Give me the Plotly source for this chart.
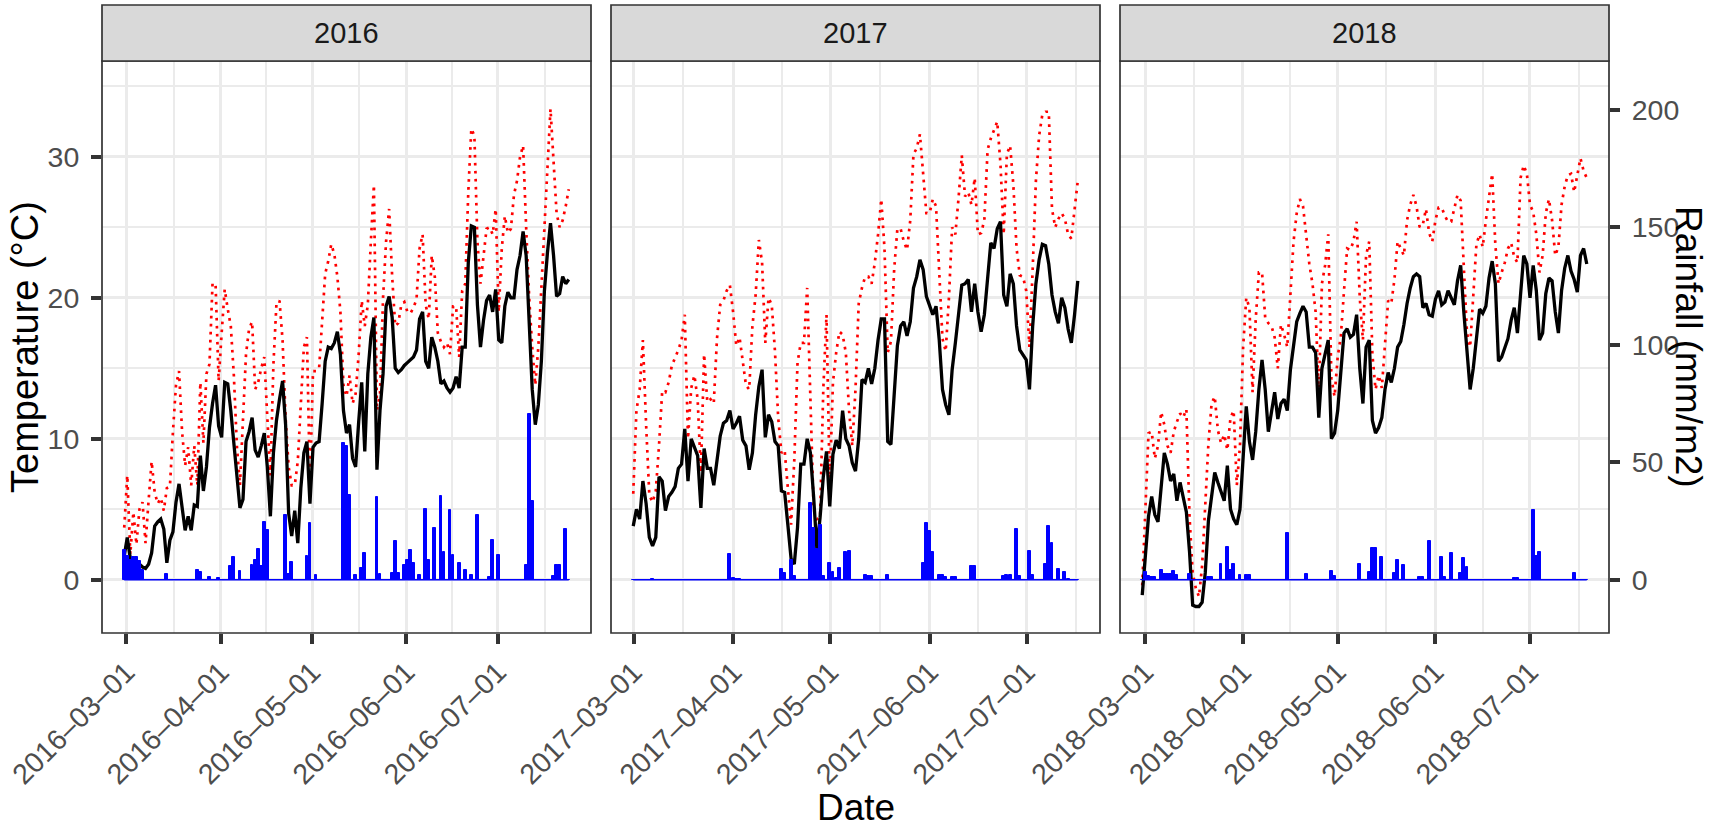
"""Daily temperature and rainfall, March to July, 2016-2018"""
import pandas as pd
import plotly.graph_objects as go

years = ["2016", "2017", "2018"]
start_dates = ["2016-03-01", "2017-03-01", "2018-03-01"]

# daily mean temperature (black line), degC
tmean_2016 = [
    1.7, 3.0, 1.5, 1.4, 1.2, 1.1, 0.9, 0.8, 1.1, 1.9,
    3.8, 4.1, 4.3, 3.6, 1.2, 2.8, 3.4, 5.5, 6.8, 5.0,
    3.5, 4.5, 3.5, 5.3, 5.2, 8.8, 6.3, 8.0, 10.8, 12.5,
    13.8, 10.9, 10.1, 14.0, 13.9, 12.0, 9.5, 7.5, 5.1, 5.7,
    9.8, 10.5, 11.5, 9.2, 8.7, 9.5, 10.4, 8.0, 4.5, 9.0,
    11.3, 12.8, 14.1, 11.0, 4.7, 3.1, 4.9, 2.6, 6.5, 9.0,
    9.8, 5.4, 9.4, 9.7, 9.8, 12.5, 15.5,
    16.5, 16.4, 16.8, 17.6, 16.0, 12.0, 10.4, 11.0, 8.6, 8.0,
    11.2, 14.0, 9.1, 14.6, 17.2, 18.6, 7.8, 12.0, 14.6, 19.4,
    20.1, 18.6, 15.0, 14.7, 14.9, 15.2, 15.4, 15.6, 15.8, 16.3,
    18.5, 19.0, 15.5, 15.0, 17.2, 16.5, 15.5, 13.9, 14.1, 13.6,
    13.3, 13.6, 14.4, 13.6, 16.5, 16.5, 22.5, 25.1, 25.0, 19.5,
    16.5, 18.4, 19.8, 20.2, 19.0, 20.6, 17.0, 16.8, 19.4, 20.4,
    20.0, 20.0, 22.0, 23.0, 24.7, 23.0, 18.0, 13.5, 11.0, 12.4,
    15.5, 20.5, 23.2,
    25.3, 23.0, 20.1, 20.3, 21.5, 21.0, 21.3,
]
tmean_2017 = [
    3.8, 5.0, 4.3, 7.0, 5.4, 3.0, 2.4, 3.0, 7.3, 7.0,
    4.9, 5.9, 6.2, 6.6, 7.9, 8.2, 10.7, 7.0, 10.0, 9.4,
    8.8, 5.1, 9.3, 7.9, 7.9, 6.7, 8.4, 10.2, 11.1, 11.3,
    12.0, 10.7, 11.1, 11.6, 9.9, 9.5, 7.8, 9.0, 11.7, 13.7,
    14.9, 10.1, 11.7, 11.2, 9.8, 9.5, 6.3, 6.2, 3.9, 1.5,
    1.1, 3.7, 8.2, 8.2, 10.0, 9.0, 5.9, 2.2, 4.4, 7.3,
    9.1, 5.2, 8.9, 9.9, 9.3, 12.0, 10.0, 9.5, 8.3, 7.7,
    10.0, 14.2, 14.0, 15.0, 13.9, 15.0, 17.0, 18.5, 18.5, 9.8,
    9.6, 13.2, 16.6, 18.0, 18.3, 17.3, 18.3, 20.7, 21.5, 22.7,
    22.0, 20.1, 19.5, 18.8, 19.4, 17.0, 13.5, 12.4, 11.7, 14.9,
    16.8, 19.0, 20.9, 21.0, 21.3, 19.0, 21.0, 19.0, 17.6, 18.8,
    21.5, 23.9, 23.5, 24.9, 25.4, 20.2, 19.4, 21.7, 21.0, 18.0,
    16.3, 15.9, 15.6, 13.5, 18.0, 21.0, 22.7, 23.8, 23.7, 22.4,
    20.2, 19.0, 18.2, 20.0, 19.3, 17.8, 16.8, 18.8, 21.2,
]
tmean_2018 = [
    -1.1, 1.5, 4.5, 5.9, 4.6, 4.1, 6.5, 9.0, 8.2, 7.0,
    7.5, 5.6, 6.9, 5.9, 4.8, 2.0, -1.8, -1.9, -1.9, -1.6,
    0.5, 4.2, 5.8, 7.6, 6.9, 6.3, 5.6, 8.1, 5.0, 4.3,
    3.9, 5.0, 8.6, 12.3, 9.8, 8.5, 10.5, 13.5, 15.6, 13.5,
    10.5, 12.0, 13.3, 11.4, 12.5, 12.8, 12.0, 14.9, 16.6, 18.3,
    18.9, 19.4, 19.0, 16.5, 16.5, 16.1, 11.5, 15.0, 16.0, 17.0,
    10.0, 10.4, 12.0, 14.7, 17.5, 17.8, 17.2, 17.4, 18.8,
    15.0, 12.5, 16.5, 17.0, 11.3, 10.4, 10.8, 11.5, 13.5, 14.7,
    14.0, 15.0, 16.5, 16.9, 18.1, 19.6, 20.7, 21.5, 21.7, 21.5,
    19.3, 19.6, 18.8, 18.7, 19.9, 20.5, 19.5, 19.7, 20.5, 20.0,
    19.5, 21.2, 22.3, 19.0, 16.5, 13.5, 15.0, 17.4, 19.2, 18.9,
    19.4, 21.4, 22.6, 21.0, 15.5, 15.8, 16.5, 17.1, 18.4, 19.3,
    17.5, 20.5, 23.0, 22.4, 20.0, 22.3, 20.5, 17.0, 17.5, 20.3,
    21.4, 21.2, 19.0, 17.5, 20.5, 22.1, 23.0, 21.9, 21.3, 20.4,
    23.0, 23.5, 22.4,
]

# daily maximum temperature (red dotted line), degC
tmax_2016 = [
    3.7, 7.4, 1.8, 4.8, 2.5, 5.0, 5.5, 2.6, 5.6, 8.4,
    6.2, 5.4, 5.8, 4.9, 6.5, 6.6, 10.5, 13.8, 14.8, 10.5,
    8.1, 9.4, 6.7, 9.5, 6.7, 14.0, 9.7, 14.6, 15.3, 21.0,
    21.0, 14.1, 17.5, 20.6, 19.2, 18.0, 14.5, 9.5, 6.7, 11.0,
    16.0, 17.8, 18.3, 13.5, 14.0, 15.0, 15.8, 11.5, 7.4, 15.3,
    19.6, 19.8, 17.0, 11.5, 8.0, 6.7, 6.7, 8.4, 12.4, 16.5,
    17.2, 6.7, 14.8, 14.8, 15.0, 18.5, 21.7,
    22.6, 23.8, 23.1, 21.5, 19.0, 13.8, 13.0, 14.5, 12.5, 13.2,
    16.0, 19.8, 18.0, 19.5, 24.0, 28.0, 12.0, 13.2, 20.0, 24.0,
    26.3, 21.5, 18.0, 18.2, 19.5, 19.7, 19.0, 18.9, 19.3, 19.9,
    23.5, 24.5, 19.5, 18.5, 23.0, 21.5, 17.5, 16.9, 16.5, 16.8,
    16.0, 19.4, 19.4, 15.8, 20.5, 21.0, 27.5, 32.0, 31.5, 24.0,
    21.0, 23.0, 24.9, 25.0, 24.5, 26.3, 19.0, 23.5, 25.8, 24.6,
    24.9, 27.3, 28.3, 30.0, 30.8, 25.0, 20.0, 16.5, 13.8, 16.5,
    21.0, 25.6, 29.2,
    33.4, 30.0, 26.0, 25.0, 25.5, 26.5, 27.7,
]
tmax_2017 = [
    6.1, 12.0, 13.5, 17.0, 11.0, 6.0, 5.5, 6.3, 9.5, 13.4,
    13.3, 14.0, 15.2, 15.7, 16.3, 17.0, 18.8, 10.0, 13.6, 14.5,
    12.8, 7.6, 16.0, 12.6, 12.8, 12.5, 17.1, 19.5, 19.8, 20.5,
    20.9, 19.0, 16.6, 17.2, 15.4, 13.8, 13.5, 18.0, 20.2, 24.1,
    22.5, 16.8, 20.0, 19.5, 16.2, 11.5, 9.0, 9.2, 6.5, 3.9,
    8.5, 15.4, 16.8, 16.8, 20.7, 13.2, 5.0, 4.3, 4.4, 13.5,
    18.8, 6.6, 14.0, 16.1, 17.6, 17.4, 16.1, 12.0, 9.5, 13.5,
    19.6, 20.7, 21.5, 21.5, 21.0, 22.5, 24.5, 27.0, 23.5, 16.1,
    16.9, 22.0, 24.9, 24.9, 24.0, 23.4, 25.5, 30.2, 30.6, 31.6,
    28.5, 26.0, 26.0, 27.0, 26.5, 22.0, 17.1, 16.2, 20.0, 25.0,
    24.5, 27.1, 30.1, 27.2, 27.5, 26.6, 28.5, 24.5, 24.6, 25.5,
    30.5, 31.3, 31.9, 32.5, 29.5, 24.5, 30.2, 30.8, 28.0, 23.5,
    21.6, 21.5, 20.5, 16.5, 22.0, 28.3, 31.5, 33.0, 33.2, 33.2,
    26.3, 25.0, 25.6, 26.0, 25.6, 24.5, 24.2, 26.5, 28.3,
]
tmax_2018 = [
    -0.4, 5.5, 10.4, 10.5, 8.6, 9.5, 11.9, 11.0, 9.5, 9.0,
    10.5, 11.2, 11.8, 11.5, 12.1, 4.5, 0.5, -0.6, -1.2, 1.0,
    5.5, 9.7, 12.5, 13.0, 10.6, 9.7, 10.3, 9.2, 11.5, 12.0,
    6.7, 9.5, 16.5, 20.0, 19.3, 13.3, 18.5, 21.8, 21.8, 18.6,
    18.2, 18.0, 17.2, 15.0, 18.1, 17.4, 16.5, 20.0, 24.0, 26.0,
    27.0, 26.5, 24.5, 22.4, 21.0, 19.0, 13.3, 21.0, 22.3, 24.5,
    14.3, 13.0, 15.8, 17.3, 20.5, 23.5, 23.4, 24.0, 25.4,
    20.0, 17.0, 23.0, 24.0, 16.0, 13.5, 14.5, 13.6, 17.0, 19.8,
    19.6, 21.3, 24.0, 23.5, 23.0, 25.5, 26.6, 27.3, 26.5, 25.0,
    25.2, 26.3, 24.6, 24.0, 25.5, 26.4, 26.4, 25.8, 25.4, 25.4,
    26.4, 27.3, 26.9, 21.8, 17.5, 16.5, 20.5, 23.8, 24.5, 23.6,
    25.5, 27.1, 28.8, 23.8, 21.0, 21.8, 22.5, 23.5, 23.9, 22.9,
    22.5, 28.5, 29.4, 28.8, 26.6, 26.1, 24.5, 21.8, 23.0, 26.0,
    27.0, 25.5, 23.0, 23.6, 26.6, 27.9, 28.7, 28.8, 27.5, 28.7,
    29.9, 29.0, 28.5,
]

# rainfall (blue bars), mm: day index from 1 March, then amount
rain_day_2016 = [0, 1, 2, 3, 4, 5, 6, 14, 24, 25, 28, 31, 35, 36, 38, 42, 43, 44, 45, 46,
                 47, 53, 54, 55, 60, 61, 63, 72, 73, 74, 76, 78, 79, 83, 84, 88, 89, 90, 92,
                 93, 94, 95, 97, 99, 100, 102, 104, 105, 107, 108, 110, 112, 114, 116, 120,
                 121, 123, 132, 133, 134, 141, 142, 143, 145]
rain_mm_2016 = [12.8, 10.3, 8.2, 9.5, 9.5, 7.8, 4.2, 2.4, 4.2, 3.1, 1.1, 0.7, 5.7, 9.6, 3.8,
                6.1, 8.5, 13.0, 5.9, 24.5, 21.2, 27.6, 2.5, 7.5, 10.0, 24.2, 2.1, 58.0, 57.0,
                36.0, 2.0, 5.2, 11.3, 35.0, 2.6, 3.0, 16.4, 2.8, 6.4, 8.4, 12.8, 7.1, 2.0,
                30.0, 8.5, 22.0, 35.6, 11.6, 29.7, 10.6, 7.1, 4.2, 2.1, 27.6, 1.1, 17.0,
                10.6, 6.4, 70.4, 33.7, 1.7, 6.4, 6.4, 21.6]
rain_day_2017 = [6, 30, 31, 32, 33, 46, 47, 49, 50, 55, 56, 57, 58, 59, 61, 62, 63, 64, 66,
                 67, 72, 73, 74, 79, 90, 91, 92, 93, 95, 96, 97, 99, 100, 105, 106, 115, 116,
                 117, 119, 120, 123, 124, 128, 129, 130, 132, 134, 135]
rain_mm_2017 = [0.4, 11.0, 0.7, 0.5, 0.5, 4.4, 2.9, 8.5, 1.5, 32.5, 22.0, 13.0, 23.4, 1.5,
                7.0, 3.2, 0.8, 5.1, 11.7, 12.4, 2.2, 1.5, 1.5, 1.8, 7.3, 24.1, 20.8, 12.0,
                2.2, 2.2, 1.2, 1.0, 1.0, 5.9, 5.9, 1.5, 2.2, 2.2, 21.5, 1.5, 12.1, 1.8, 6.6,
                23.0, 15.8, 4.4, 3.4, 0.5]
rain_day_2018 = [1, 2, 3, 4, 6, 7, 8, 9, 10, 11, 15, 21, 22, 25, 27, 28, 29, 31, 33, 34,
                 46, 52, 60, 61, 69, 72, 73, 74, 76, 80, 81, 83, 88, 89, 91, 95, 96, 98, 101,
                 102, 103, 118, 119, 124, 125, 126, 137]
rain_mm_2018 = [3.5, 1.5, 1.1, 1.1, 4.1, 2.3, 2.6, 2.6, 3.8, 2.0, 2.6, 1.2, 1.2, 6.8, 13.9,
                4.2, 6.8, 1.8, 1.8, 1.8, 19.7, 2.6, 3.8, 1.5, 6.8, 3.5, 13.6, 13.6, 9.5, 3.0,
                8.3, 6.1, 1.1, 1.1, 16.4, 9.8, 1.1, 11.4, 3.0, 9.4, 5.3, 0.8, 0.8, 29.6, 9.9,
                11.7, 2.7]

RAIN_SCALE = 6  # rainfall axis = temperature axis * 6
FONT = "Liberation Sans, Arial, sans-serif"
W, H = 1713, 833
M_L, M_R, M_T, M_B = 102, 104, 61, 200
PANEL_W, GAP = 489, 20
STRIP_H = 56
TICK_SIZE = 28.5


def _daily_rain(n_days, days, mm):
    rain = [0.0] * n_days
    for day, val in zip(days, mm):
        rain[day] = val
    return rain


def _month_ticks(x0, x1):
    months = pd.date_range(x0 - pd.DateOffset(months=1), x1 + pd.DateOffset(months=1), freq="MS")
    major = [m for m in months if x0 <= m <= x1]
    mids = [a + (b - a) / 2 for a, b in zip(months[:-1], months[1:])]
    minor = [m for m in mids if x0 <= m <= x1]
    return major, minor


def main():
    tmean = [tmean_2016, tmean_2017, tmean_2018]
    tmax = [tmax_2016, tmax_2017, tmax_2018]
    rain_days = [rain_day_2016, rain_day_2017, rain_day_2018]
    rain_mm = [rain_mm_2016, rain_mm_2017, rain_mm_2018]

    plot_w = W - M_L - M_R
    plot_h = H - M_T - M_B
    y_range = [-3.78, 36.8]

    fig = go.Figure()
    layout = {}
    shapes = []
    annotations = []

    for i, year in enumerate(years):
        xname = "x" if i == 0 else f"x{i + 1}"
        xkey = "xaxis" if i == 0 else f"xaxis{i + 1}"
        dates = pd.date_range(start_dates[i], periods=len(tmean[i]), freq="D")
        rain = _daily_rain(len(dates), rain_days[i], rain_mm[i])

        fig.add_trace(go.Scatter(
            x=dates, y=tmax[i], xaxis=xname, yaxis="y", mode="lines",
            line=dict(color="#FF0000", width=2.7, dash="2.7px,5.3px"),
            showlegend=False, hoverinfo="skip",
        ))
        fig.add_trace(go.Scatter(
            x=dates, y=tmean[i], xaxis=xname, yaxis="y", mode="lines",
            line=dict(color="#000000", width=3.3),
            showlegend=False, hoverinfo="skip",
        ))
        fig.add_trace(go.Bar(
            x=dates, y=rain, xaxis=xname, yaxis="y2",
            width=0.9 * 86400000,
            marker=dict(color="#0000FF", line=dict(color="#0000FF", width=1)),
            showlegend=False, hoverinfo="skip",
        ))
        # no-rain days are drawn as a flat blue baseline
        fig.add_trace(go.Scatter(
            x=[dates[0], dates[-1]], y=[0, 0], xaxis=xname, yaxis="y2", mode="lines",
            line=dict(color="#0000FF", width=1.4),
            showlegend=False, hoverinfo="skip",
        ))

        span = dates[-1] - dates[0]
        x0 = dates[0] - span * 0.05
        x1 = dates[-1] + span * 0.05
        major, minor = _month_ticks(x0, x1)

        d0 = i * (PANEL_W + GAP) / plot_w
        d1 = (i * (PANEL_W + GAP) + PANEL_W) / plot_w
        layout[xkey] = dict(
            domain=[d0, min(d1, 1.0)], range=[x0, x1], anchor="y", type="date",
            tickmode="array", tickvals=major,
            ticktext=[m.strftime("%Y\u2013%m\u2013%d") for m in major],
            tickangle=-45, ticks="outside", ticklen=10, tickwidth=3.5, tickcolor="#333333",
            tickfont=dict(family=FONT, size=TICK_SIZE, color="#4D4D4D"),
            showgrid=True, gridcolor="#EBEBEB", gridwidth=2.7,
            minor=dict(tickmode="array", tickvals=minor, showgrid=True,
                       gridcolor="#EBEBEB", gridwidth=1.6, ticks=""),
            showline=False, zeroline=False, fixedrange=True,
        )

        # panel frame
        shapes.append(dict(
            type="rect", xref=f"{xname} domain", yref="y domain",
            x0=0, x1=1, y0=0, y1=1, line=dict(color="#333333", width=1.7),
            fillcolor="rgba(0,0,0,0)", layer="above",
        ))
        # facet strip
        shapes.append(dict(
            type="rect", xref=f"{xname} domain", yref="paper",
            x0=0, x1=1, y0=1, y1=1 + STRIP_H / plot_h,
            line=dict(color="#333333", width=1.7), fillcolor="#D9D9D9", layer="above",
        ))
        annotations.append(dict(
            text=year, xref=f"{xname} domain", yref="paper", x=0.5,
            y=1 + STRIP_H / plot_h / 2, showarrow=False, xanchor="center", yanchor="middle",
            font=dict(family=FONT, size=29, color="#1A1A1A"),
        ))

    layout["yaxis"] = dict(
        domain=[0, 1], range=y_range, anchor="x",
        tickmode="array", tickvals=[0, 10, 20, 30],
        ticks="outside", ticklen=10, tickwidth=3.5, tickcolor="#333333",
        tickfont=dict(family=FONT, size=TICK_SIZE, color="#4D4D4D"), ticklabelstandoff=6,
        showgrid=True, gridcolor="#EBEBEB", gridwidth=2.7,
        minor=dict(tickmode="array", tickvals=[5, 15, 25, 35], showgrid=True,
                   gridcolor="#EBEBEB", gridwidth=1.6, ticks=""),
        showline=False, zeroline=False, fixedrange=True,
    )
    layout["yaxis2"] = dict(
        overlaying="y", side="right", anchor="x3",
        range=[v * RAIN_SCALE for v in y_range],
        tickmode="array", tickvals=[0, 50, 100, 150, 200],
        ticks="outside", ticklen=10, tickwidth=3.5, tickcolor="#333333",
        tickfont=dict(family=FONT, size=TICK_SIZE, color="#4D4D4D"), ticklabelstandoff=6,
        showgrid=False, showline=False, zeroline=False, fixedrange=True,
    )

    annotations.append(dict(
        text="Date", xref="paper", yref="paper", x=0.5, y=(plot_h + M_T - 807) / plot_h,
        showarrow=False, xanchor="center", yanchor="middle",
        font=dict(family=FONT, size=37, color="#000000"),
    ))
    annotations.append(dict(
        text="Temperature (°C)", xref="paper", yref="paper", x=(25 - M_L) / plot_w, y=0.5,
        showarrow=False, textangle=-90, xanchor="center", yanchor="middle",
        font=dict(family=FONT, size=38, color="#000000"),
    ))
    annotations.append(dict(
        text="Rainfall (mm/m2)", xref="paper", yref="paper", x=(1689 - M_L) / plot_w, y=0.5,
        showarrow=False, textangle=90, xanchor="center", yanchor="middle",
        font=dict(family=FONT, size=37, color="#000000"),
    ))

    fig.update_layout(
        width=W, height=H,
        margin=dict(l=M_L, r=M_R, t=M_T, b=M_B, autoexpand=False),
        paper_bgcolor="#FFFFFF", plot_bgcolor="#FFFFFF",
        barmode="overlay", bargap=0,
        shapes=shapes, annotations=annotations,
        font=dict(family=FONT),
        **layout,
    )
    # the page body has a default margin; drop it so the figure sits at the window corner
    fig.write_html("out.html", config={"displayModeBar": False},
                   post_script="document.body.style.margin = '0';")


if __name__ == "__main__":
    main()
